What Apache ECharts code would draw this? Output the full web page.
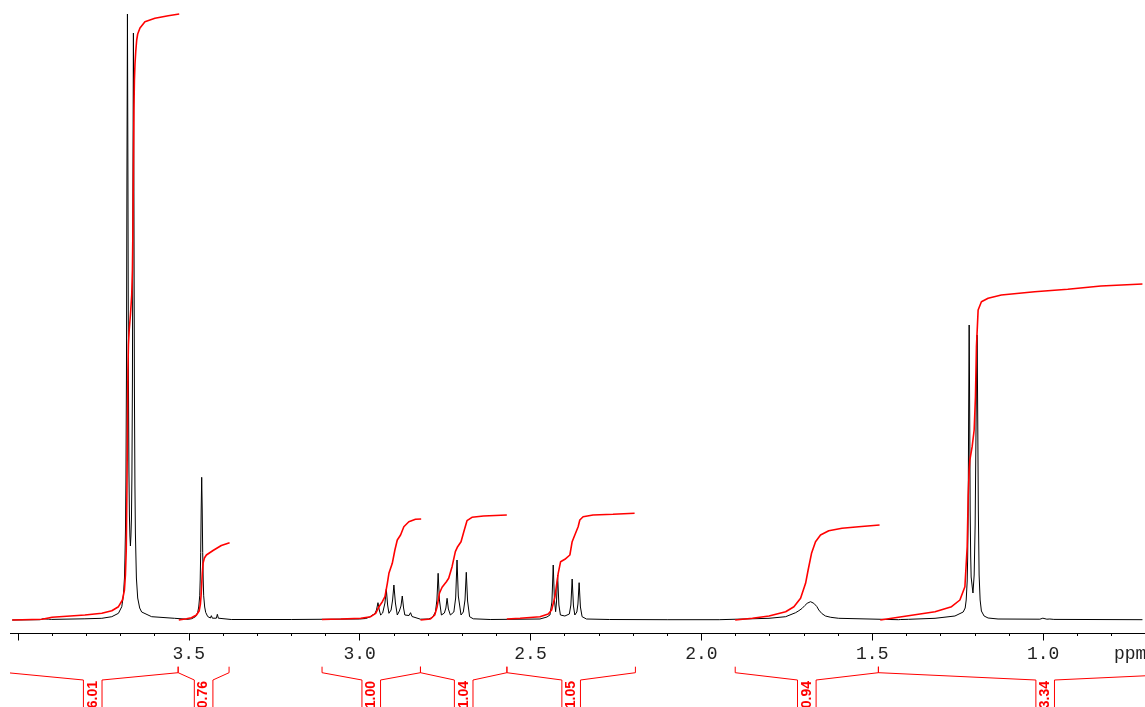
<!DOCTYPE html>
<html><head><meta charset="utf-8">
<script src="https://cdn.jsdelivr.net/npm/echarts@6/dist/echarts.min.js"></script>
<style>html,body{margin:0;padding:0;background:#fff;overflow:hidden;width:1145px;height:707px;position:relative}
#c{position:absolute;left:-156px;top:0;width:1373px;height:707px}</style>
</head><body><div id="c"></div>
<script>
// spectrum: [ppm, intensity]
const spectrum = [
[4.0166,0],[3.935,0.3],[3.9271,1.2],[3.9242,2.5],[3.9213,0.8],[3.9100,0.8],[3.9050,2.5],[3.9010,0.6],[3.8039,1.2],[3.7543,1.7],[3.7252,3.3],[3.7057,6.7],[3.6960,13.3],[3.6911,25],[3.6881,42],[3.6867,61],[3.6852,89],[3.6838,140],[3.6823,243],[3.6809,442],[3.6794,606],[3.6779,442],[3.6765,245],[3.6750,148],[3.6736,104],[3.6721,84],[3.6707,74],[3.6692,84],[3.6677,101],[3.6663,144],[3.6648,239],[3.6634,429],[3.6619,587],[3.6604,425],[3.6590,232],[3.6575,135],[3.6561,87],[3.6532,42],[3.6494,22],[3.6436,12],[3.6378,8],[3.6086,3.3],[3.5416,1.7],[3.5017,0.7],
[3.4912,1.3],[3.4796,3.5],[3.4738,7.6],[3.4708,13],[3.4679,24.2],[3.4665,40],[3.4650,67.6],[3.4636,111],[3.4621,142.7],[3.4606,111],[3.4592,67.6],[3.4577,40],[3.4563,24.2],[3.4534,13],[3.4504,7.6],[3.4446,3.5],[3.4396,1.5],[3.4367,2],[3.4338,4.3],[3.4309,1.8],[3.4251,1.2],[3.4192,1.8],[3.4163,5.7],[3.4134,1.8],[3.4076,0.8],[3.3755,0.5],
[3.2,0.5],[3.0,1],
[2.9822,1.5],[2.9705,3],[2.9626,5],[2.9559,6],[2.9507,10],[2.9463,17.3],[2.9425,10],[2.9385,5],[2.9326,7],[2.9259,17],[2.9219,30.7],[2.9181,15],[2.9143,6.7],[2.9079,10],[2.9035,20],[2.8997,35],[2.8953,17],[2.8898,5],[2.8837,9],[2.8790,14],[2.8752,24],[2.8714,12],[2.8677,5],[2.8627,3.5],[2.8554,4.5],[2.8510,7.3],[2.8467,3.5],[2.8423,1.7],[2.8219,0.8],
[2.7986,1],[2.7869,2.5],[2.7782,8],[2.7738,20],[2.7703,46.7],[2.7665,20],[2.7607,5],[2.7520,7],[2.7476,12],[2.7441,21.7],[2.7403,11],[2.7345,5],[2.7243,8],[2.7190,22],[2.7150,60],[2.7112,24],[2.7033,5],[2.6966,8],[2.6917,20],[2.6879,47.7],[2.6841,19],[2.6782,3.3],[2.6675,1.2],[2.6179,0.5],
[2.4723,1],[2.4519,3],[2.4431,5],[2.4373,18],[2.4335,55],[2.4300,20],[2.4265,8.3],[2.4239,18],[2.4207,45],[2.4169,15],[2.4125,5],[2.3994,4],[2.3863,6],[2.3819,15],[2.3781,41],[2.3743,14],[2.3703,5],[2.3644,8],[2.3612,16],[2.3577,37.3],[2.3539,13],[2.3490,3.3],[2.3362,1],[2.2683,0.5],
[2.1,0.3],[1.9478,0.3],[1.8021,1.7],[1.7534,3.3],[1.7243,7.3],[1.7147,9.3],[1.7050,11.7],[1.6972,14.5],[1.6905,16.7],[1.6806,18.3],[1.6710,16.7],[1.6622,13.5],[1.6564,10],[1.6476,6.5],[1.6369,4],[1.6214,2.7],[1.5981,1.7],[1.4233,0.3],
[1.4166,0.5],[1.4137,1.7],[1.4108,0.5],[1.3941,0.7],[1.3163,1.7],[1.2581,4],[1.2339,8],[1.2281,12],[1.2251,20],[1.2222,39],[1.2208,62],[1.2193,109],[1.2179,208],[1.2164,295],[1.2149,209],[1.2135,110],[1.2120,64],[1.2106,43],[1.2077,34],[1.2053,27],[1.2018,45],[1.1989,95],[1.1966,180],[1.1948,250],[1.1931,285],[1.1913,200],[1.1896,110],[1.1873,45],[1.1843,20],[1.1806,9],[1.1727,4],[1.1610,2],[1.1319,1],[1.0095,0.8],[1.0037,1],[1.0008,1.8],[0.9979,1],[0.9891,0.8],[0.9804,1],[0.9775,1.6],[0.9746,0.8],[0.9687,0.6],[0.7094,0.3]
];
// integral curves: [ppm, cumulative intensity]
const integral1 = [[4.0166,0],[3.9291,0.7],[3.9000,2.7],[3.8039,5],[3.7543,6.7],[3.7252,9.3],[3.7057,13.3],[3.6940,20],[3.6882,30],[3.6853,45],[3.6829,70],[3.6809,130],[3.6794,190],[3.6780,250],[3.6765,275],[3.6742,290],[3.6707,305],[3.6669,325],[3.6648,350],[3.6634,390],[3.6619,450],[3.6604,510],[3.6590,540],[3.6573,556],[3.6552,568],[3.6523,580],[3.6494,586],[3.6427,592],[3.6282,598.3],[3.5990,601.7],[3.5600,604.3],[3.5279,606]];
const integral2 = [[3.5291,0],[3.5066,1.2],[3.4921,2.3],[3.4775,5],[3.4696,9],[3.4659,16],[3.4638,25],[3.4621,36],[3.4603,47],[3.4580,57],[3.4542,62],[3.4484,65],[3.4289,69.5],[3.4047,74.5],[3.3805,77.3]];
const integral3 = [[3.1104,0.5],[3.0550,1],[2.9967,1.7],[2.9676,3.3],[2.9530,6.7],[2.9434,13.3],[2.9335,18.3],[2.9259,23.3],[2.9189,36.7],[2.9143,46.7],[2.9044,56.7],[2.8968,70],[2.8898,80],[2.8802,85],[2.8706,93.3],[2.8560,98.3],[2.8365,100.7],[2.8199,101]];
const integral4 = [[2.8219,0],[2.7928,1],[2.7802,5],[2.7732,13.3],[2.7665,26.7],[2.7587,32.7],[2.7461,38.3],[2.7394,41.7],[2.7295,53.3],[2.7199,68.3],[2.7132,73.3],[2.7033,78.3],[2.6937,90],[2.6858,99.3],[2.6713,102.7],[2.6375,104],[2.5693,105]];
const integral5 = [[2.5693,1],[2.5305,1.7],[2.4723,3.3],[2.4481,6],[2.4382,10],[2.4285,23.3],[2.4189,46.7],[2.4119,58.3],[2.3994,60.7],[2.3848,65],[2.3781,78.3],[2.3703,85],[2.3606,93.3],[2.3557,100],[2.3461,103.3],[2.3170,105],[2.2587,105.7],[2.1954,106.7]];
const integral6 = [[1.9011,0],[1.8507,1.7],[1.8021,4],[1.7534,8.3],[1.7292,13.3],[1.7097,21.7],[1.6951,36.7],[1.6876,50],[1.6777,66.7],[1.6660,78.3],[1.6514,85],[1.6272,89.3],[1.5885,91.7],[1.5398,93.3],[1.4786,95]];
const integral7 = [[1.4766,0],[1.4137,3.3],[1.3163,8.3],[1.2680,13.3],[1.2435,20],[1.2289,33.3],[1.2222,73.3],[1.2193,123.3],[1.2164,150],[1.2144,160],[1.2077,173.3],[1.2018,190],[1.1980,223.3],[1.1951,273.3],[1.1902,310],[1.1806,318.3],[1.1610,321.7],[1.1223,325],[1.0250,328.3],[0.9279,330.7],[0.8309,334],[0.7094,336]];
// integration regions [from ppm, to ppm] and their values
const integralRegions = [[4.031,3.531],[3.531,3.382],[3.110,2.822],[2.822,2.569],[2.569,2.193],[1.901,1.482],[1.482,0.506]];
const integralLabels = ['6.01','0.76','1.00','1.04','1.05','0.94','3.34'];
const tickLabels = ['3.5','3.0','2.5','2.0','1.5','1.0'];

const OX = 156; // canvas offset relative to window
const chart = echarts.init(document.getElementById('c'), null, {renderer:'canvas', width:1373, height:707});
const red = '#ff0000';
const integrals = [integral1, integral2, integral3, integral4, integral5, integral6, integral7];
const series = [{
  type:'line', data:spectrum, symbol:'none', showSymbol:false, z:2,
  lineStyle:{color:'#000', width:1}
}];
integrals.forEach(d => series.push({
  type:'line', data:d, symbol:'none', showSymbol:false, z:3,
  lineStyle:{color:red, width:1.6}
}));
series.push({
  type:'custom', coordinateSystem:'cartesian2d', clip:false, silent:true, z:4,
  data: integralRegions.map(r => [r[0], r[1]]),
  encode:{x:[0,1]},
  renderItem:(params, api) => {
    const x1 = api.coord([api.value(0), 0])[0];
    const x2 = api.coord([api.value(1), 0])[0];
    const c = (x1 + x2) / 2, h = 9.3, yT = 666.7, yM = 672.7, yL = 680, yB = 712;
    const st = {stroke:red, lineWidth:1, fill:null};
    return {type:'group', children:[
      {type:'polyline', shape:{points:[[x1,yT],[x1,yM],[c-h,yL],[c-h,yB]]}, style:st},
      {type:'polyline', shape:{points:[[x2,yT],[x2,yM],[c+h,yL],[c+h,yB]]}, style:st},
      {type:'text', x:c, y:yL+1, rotation:Math.PI/2,
       style:{text:integralLabels[params.dataIndex], fill:red, font:'bold 14px "Liberation Sans", Arial, sans-serif',
              align:'right', verticalAlign:'middle', textAlign:'right', textVerticalAlign:'middle'}}
    ]};
  }
});

chart.setOption({
  animation:false,
  backgroundColor:'#fff',
  grid:{left:0, right:0, top:0, bottom:85, containLabel:false},
  xAxis:{
    type:'value', inverse:true, min:0.5, max:4.5, interval:0.5, offset:11,
    axisLine:{onZero:false, lineStyle:{color:'#000', width:1}},
    axisTick:{show:true, length:7.5, lineStyle:{color:'#000', width:1}},
    minorTick:{show:true, splitNumber:5, length:3, lineStyle:{color:'#000', width:1}},
    splitLine:{show:false}, minorSplitLine:{show:false},
    axisLabel:{margin:12, fontFamily:'"Liberation Mono", monospace', fontSize:18, color:'#222',
      formatter: v => tickLabels.includes(v.toFixed(1)) ? v.toFixed(1) : ''}
  },
  yAxis:{type:'value', min:-2, max:620, show:false},
  graphic:[
    {type:'text', left:1114 + OX, top:645, z:50, style:{text:'ppm', font:'18px "Liberation Mono", monospace', fill:'#222'}},
    {type:'rect', left:OX - 2, top:626, z:100, shape:{width:12, height:81}, style:{fill:'#fff'}}
  ],
  series:series
});
</script>
</body></html>
